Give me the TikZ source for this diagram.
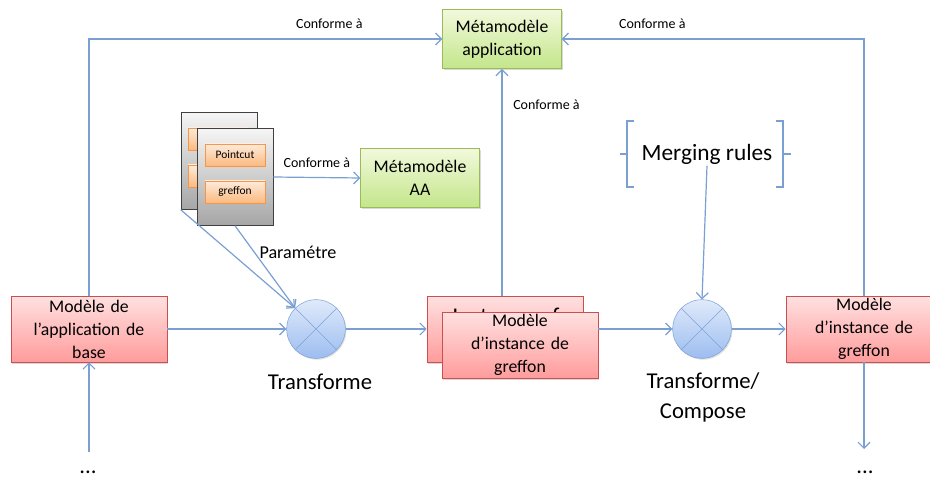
\documentclass[tikz,border=0pt]{standalone}
\usepackage{fontspec}
\setmainfont{Carlito}
\usetikzlibrary{positioning,shadows,arrows.meta}

\definecolor{linkblue}{HTML}{7A9FD3}
\definecolor{redtop}{HTML}{FFE0E0}
\definecolor{redbot}{HTML}{FF9C9C}
\definecolor{redborder}{HTML}{C8504E}
\definecolor{greentop}{HTML}{F2F9DC}
\definecolor{greenbot}{HTML}{C3E68A}
\definecolor{greenborder}{HTML}{9BBB59}
\definecolor{bluetop}{HTML}{E0EAFA}
\definecolor{bluebot}{HTML}{9CBDF0}
\definecolor{blueborder}{HTML}{7EA3D8}
\definecolor{orangetop}{HTML}{FEEBDC}
\definecolor{orangebot}{HTML}{FBB97E}
\definecolor{orangeborder}{HTML}{F79646}

\begin{document}
\begin{tikzpicture}[x=0.75pt,y=-0.75pt]

\useasboundingbox (0,0) rectangle (930,484);

\tikzstyle{model} = [rectangle, minimum width=117pt, minimum height=49.5pt, inner sep=0pt, text width=110pt, align=center, draw=redborder, top color=redtop, bottom color=redbot, font=\fontsize{13.3}{17.3}\selectfont, drop shadow={shadow xshift=1pt, shadow yshift=-1.2pt, opacity=0.3}]
\tikzstyle{meta} = [rectangle, minimum width=89pt, minimum height=44.5pt, inner sep=0pt, align=center, draw=greenborder, top color=greentop, bottom color=greenbot, font=\fontsize{13.3}{17.3}\selectfont, drop shadow={shadow xshift=1pt, shadow yshift=-1.2pt, opacity=0.3}]
\tikzstyle{page} = [rectangle, minimum width=57pt, minimum height=72.75pt, inner sep=0pt, draw=black!75, top color=black!4, bottom color=black!35]
\tikzstyle{tag} = [rectangle, minimum width=45pt, minimum height=16.5pt, inner sep=0pt, draw=orangeborder, top color=orangetop, bottom color=orangebot, font=\fontsize{8.6}{10}\selectfont, drop shadow={shadow xshift=0.6pt, shadow yshift=-0.8pt, opacity=0.25}]
\tikzstyle{op} = [circle, minimum size=44pt, inner sep=0pt, draw=blueborder, top color=bluetop, bottom color=bluebot, drop shadow={shadow xshift=0.8pt, shadow yshift=-1pt, opacity=0.25}]
\tikzstyle{lbl} = [inner sep=1pt, font=\fontsize{10.5}{12}\selectfont]
\tikzstyle{biglbl} = [inner sep=1pt, align=center, font=\fontsize{17}{22.5}\selectfont]
\tikzstyle{arrow} = [draw=linkblue, line width=0.9pt, -{Straight Barb[length=4.5pt,width=9pt]}]
\tikzstyle{line} = [draw=linkblue, line width=0.9pt]

% metamodels
\node (mmapp) [meta] at (502,39) {Métamodèle\\application};
\node (mmaa) [meta] at (420,178) {Métamodèle\\AA};

% aspect pages
\node (pageback) [page] at (219,161) {};
\node (tagback1) [tag] at (218,139) {};
\node (tagback2) [tag] at (218,176) {};
\node (pagefront) [page] at (235,177) {};
\node (pointcut) [tag] at (235,155) {Pointcut};
\node (greffon) [tag] at (235,192) {greffon};

% models and operations
\node (appbase) [model] at (89,329) {Modèle de\\l’application de\\base};
\node (transf) [op] at (316,329) {};
\node (instback) [model] at (505,329) {};
\node (instlbl) [anchor=base, inner sep=0pt, font=\fontsize{18}{22}\selectfont] at (506,324) {Instance of};
\node (instfront) [model] at (520,345) {Modèle\\d’instance de\\greffon};
\node (compose) [op] at (702,329) {};
\node (instgref) [model] at (864,329) {Modèle\\d’instance de\\greffon};
\node (merge) [biglbl, font=\fontsize{17.5}{22}\selectfont] at (707,154) {Merging rules};

\node (transflbl) [biglbl] at (320,382) {Transforme};
\node (composelbl) [biglbl] at (703,397) {Transforme/\\Compose};
\node (dotsleft) [biglbl] at (88,472) {...};
\node (dotsright) [biglbl] at (865,472) {...};
\coordinate (lefttail) at (89,452);
\coordinate (righthead) at (864,449);

% crosses in the operations
\draw [blueborder] (transf.north west) -- (transf.south east) (transf.north east) -- (transf.south west);
\draw [blueborder] (compose.north west) -- (compose.south east) (compose.north east) -- (compose.south west);

% brackets round the merging rules
\draw [line] (634,121) -- (627,121) -- (627,187) -- (634,187) (627,154) -- (620,154);
\draw [line] (776,121) -- (783,121) -- (783,187) -- (776,187) (783,154) -- (791,154);

% connectors
\draw [arrow] (appbase.north) |- (mmapp.west) node [lbl, pos=0.84, above=6pt] {Conforme à};
\draw [arrow] (instgref.north) |- (mmapp.east) node [lbl, pos=0.85, above=6pt] {Conforme à};
\draw [arrow] (instback.north -| mmapp.south) -- (mmapp.south) node [lbl, pos=0.84, right=7pt] {Conforme à};
\draw [arrow] (pagefront.east) -- (mmaa.west) node [lbl, midway, above=6pt] {Conforme à};
\draw [arrow] (pageback.south west) -- (transf.north west);
\draw [arrow] (pagefront.south) -- (transf.north west);
\node (param) [inner sep=1pt, font=\fontsize{13.6}{16}\selectfont] at (298,252) {Paramétre};
\draw [arrow] (lefttail) -- (appbase.south);
\draw [arrow] (appbase.east) -- (transf.west);
\draw [arrow] (transf.east) -- (instback.west);
\draw [arrow] (instfront.east |- compose.west) -- (compose.west);
\draw [arrow] (merge.south) -- (compose.north);
\draw [arrow] (compose.east) -- (instgref.west);
\draw [arrow] (instgref.south) -- (righthead);

\end{tikzpicture}
\end{document}
